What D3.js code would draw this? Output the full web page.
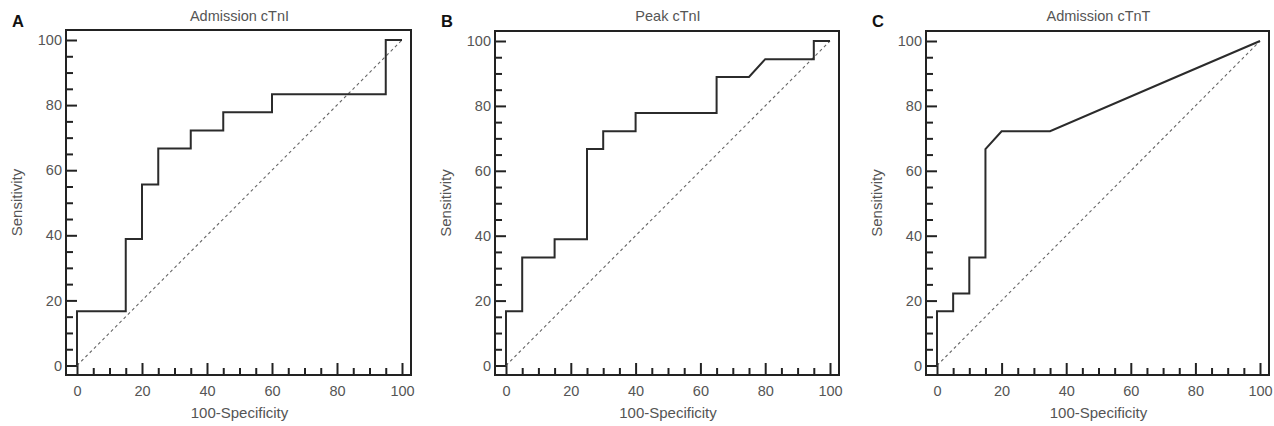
<!DOCTYPE html>
<html>
<head>
<meta charset="utf-8">
<script src="https://cdn.jsdelivr.net/npm/d3@7"></script>
<style>
  body { margin: 0; background: #fff; }
  svg { display: block; font-family: "Liberation Sans", Arial, sans-serif; }
</style>
</head>
<body>
<div id="chart"></div>

<script>
// ROC curve points (100-Specificity, Sensitivity)
const letters = ["A", "B", "C"];
const titles = ["Admission cTnI", "Peak cTnI", "Admission cTnT"];

const rocA = [[0,0],[0,16.7],[15,16.7],[15,38.9],[20,38.9],[20,55.6],[25,55.6],[25,66.7],
  [35,66.7],[35,72.2],[45,72.2],[45,77.8],[60,77.8],[60,83.3],[95,83.3],[95,100],[100,100]];
const rocB = [[0,0],[0,16.7],[5,16.7],[5,33.3],[15,33.3],[15,38.9],[25,38.9],[25,66.7],
  [30,66.7],[30,72.2],[40,72.2],[40,77.8],[65,77.8],[65,88.9],[75,88.9],[80,94.4],
  [95,94.4],[95,100],[100,100]];
const rocC = [[0,0],[0,16.7],[5,16.7],[5,22.2],[10,22.2],[10,33.3],[15,33.3],[15,66.7],
  [20,72.2],[35,72.2],[74,88.9],[100,100]];

const majorTicks = [0, 20, 40, 60, 80, 100];
const minorTicks = d3.range(0, 101, 5).filter(d => d % 20 !== 0);

const W = 1274, H = 426;
// frame boxes of the three panels
const frames = [
  {left: 66, top: 30, right: 411, bottom: 375},
  {left: 495, top: 31, right: 839, bottom: 375},
  {left: 926, top: 31, right: 1269, bottom: 375}
];
const series = [rocA, rocB, rocC];

const svg = d3.select("#chart").append("svg")
  .attr("width", W).attr("height", H);

const textCol = "#555";

frames.forEach((f, i) => {
  const g = svg.append("g");

  const x = d3.scaleLinear().domain([0, 100]).range([f.left + 11, f.right - 9]);
  const y = d3.scaleLinear().domain([0, 100]).range([f.bottom - 9.5, f.top + 10]);

  // minor ticks
  g.append("g")
    .attr("transform", `translate(${f.left},0)`)
    .call(d3.axisLeft(y).tickValues(minorTicks).tickSize(-7).tickFormat(""))
    .call(a => a.select(".domain").remove());
  g.append("g")
    .attr("transform", `translate(0,${f.bottom})`)
    .call(d3.axisBottom(x).tickValues(minorTicks).tickSize(-7).tickFormat(""))
    .call(a => a.select(".domain").remove());

  // major ticks with labels
  const ya = g.append("g")
    .attr("transform", `translate(${f.left},0)`)
    .call(d3.axisLeft(y).tickValues(majorTicks).tickSize(-11).tickPadding(4));
  const xa = g.append("g")
    .attr("transform", `translate(0,${f.bottom})`)
    .call(d3.axisBottom(x).tickValues(majorTicks).tickSize(-12).tickPadding(11));
  [ya, xa].forEach(a => {
    a.select(".domain").remove();
    a.selectAll("text").attr("fill", textCol).style("font-size", "14.5px")
      .style("font-family", '"Liberation Sans", Arial, sans-serif');
  });
  g.selectAll(".tick line").attr("stroke", "#222").attr("stroke-width", 2);

  // frame
  g.append("rect")
    .attr("x", f.left).attr("y", f.top)
    .attr("width", f.right - f.left).attr("height", f.bottom - f.top)
    .attr("fill", "none").attr("stroke", "#222").attr("stroke-width", 2);

  // reference diagonal
  g.append("line")
    .attr("x1", x(0)).attr("y1", y(0)).attr("x2", x(100)).attr("y2", y(100))
    .attr("stroke", "#666").attr("stroke-width", 1.1).attr("stroke-dasharray", "3,3");

  // ROC curve
  g.append("path")
    .datum(series[i])
    .attr("fill", "none")
    .attr("stroke", "#2b2b2b")
    .attr("stroke-width", 2)
    .attr("d", d3.line().x(d => x(d[0])).y(d => y(d[1])));

  const cx = (x(0) + x(100)) / 2;

  // title
  g.append("text")
    .attr("x", cx).attr("y", 21)
    .attr("text-anchor", "middle")
    .attr("fill", textCol).style("font-size", "14.5px")
    .text(titles[i]);

  // panel letter
  g.append("text")
    .attr("x", f.left - 54).attr("y", 27)
    .attr("font-weight", "bold").style("font-size", "16.5px")
    .attr("fill", "#111")
    .text(letters[i]);

  // axis titles
  g.append("text")
    .attr("x", cx).attr("y", 418)
    .attr("text-anchor", "middle")
    .attr("fill", textCol).style("font-size", "15px")
    .text("100-Specificity");

  g.append("text")
    .attr("transform", `translate(${f.left - 44},${(f.top + f.bottom) / 2}) rotate(-90)`)
    .attr("text-anchor", "middle")
    .attr("fill", textCol).style("font-size", "15px")
    .text("Sensitivity");
});
</script>
</body>
</html>
